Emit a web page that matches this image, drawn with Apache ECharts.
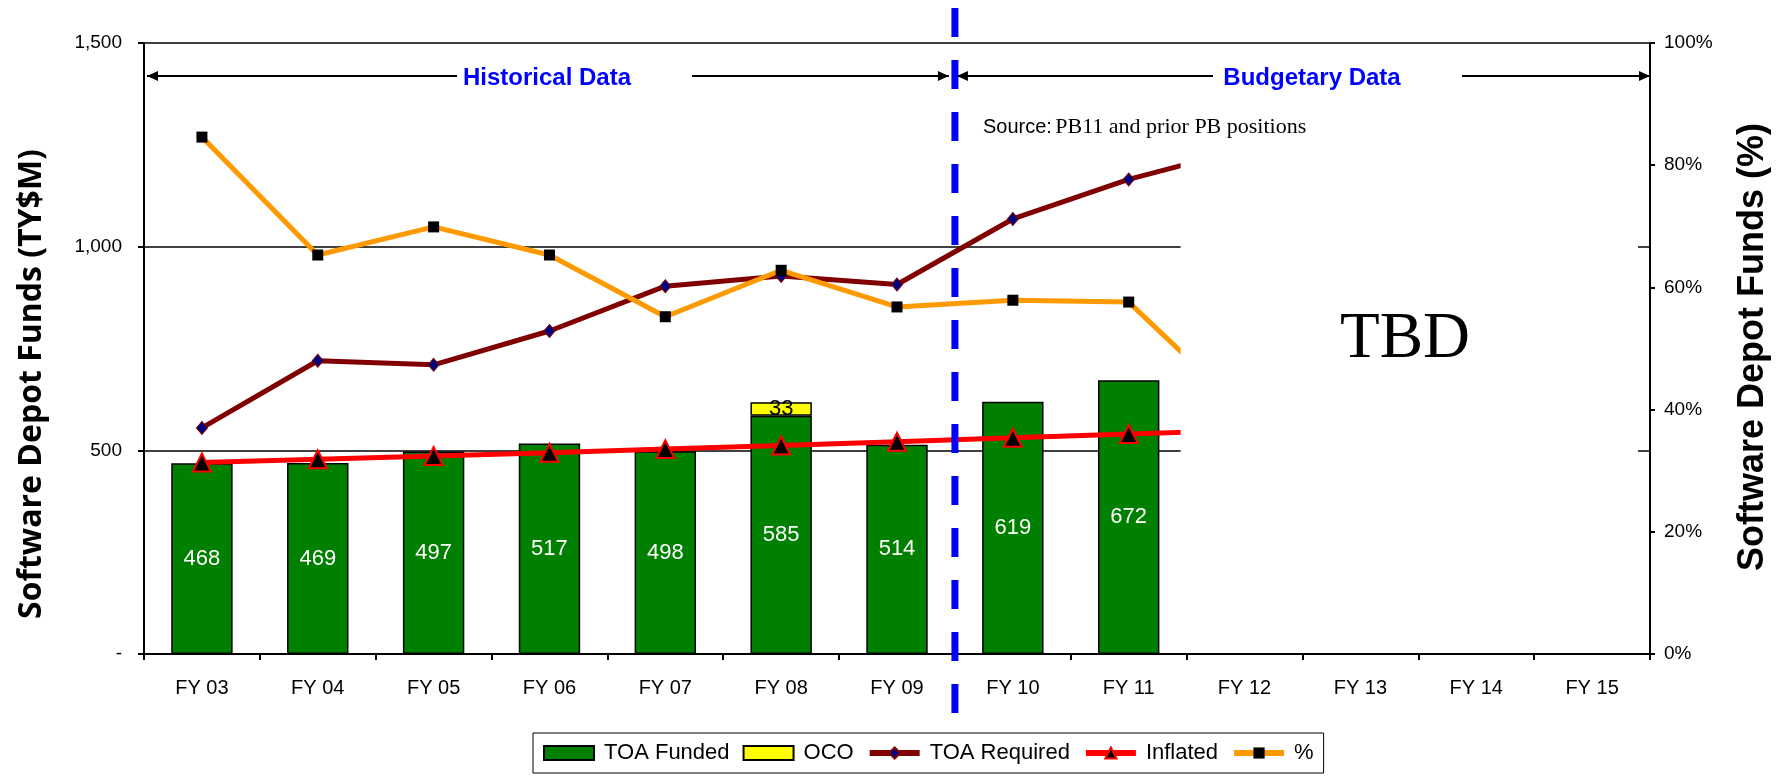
<!DOCTYPE html>
<html>
<head>
<meta charset="utf-8">
<script src="https://cdn.jsdelivr.net/npm/echarts@6/dist/echarts.min.js"></script>
<style>
  html, body { margin: 0; padding: 0; background: #fff; }
  #chart { width: 1777px; height: 776px; }
</style>
</head>
<body>
<div id="chart"></div>
<script>
// fiscal years on the x axis
const categories = ['FY 03', 'FY 04', 'FY 05', 'FY 06', 'FY 07', 'FY 08', 'FY 09',
  'FY 10', 'FY 11', 'FY 12', 'FY 13', 'FY 14', 'FY 15']

// TY$M
const toaFunded = [468, 469, 497, 517, 498, 585, 514, 619, 672, null, null, null, null]
const oco = [null, null, null, null, null, 33, null, null, null, null, null, null, null]
// FY 12 points only show as the start of a segment before the TBD box
const toaRequired = [555, 720, 710, 793, 903, 928, 907, 1068, 1165, 1240, null, null, null]
const inflated = [470, 478, 486, 494, 503, 512, 521, 531, 540, 549, null, null, null]
// share funded, right axis
const pctFunded = [0.846, 0.653, 0.699, 0.653, 0.552, 0.628, 0.568, 0.579, 0.576, 0.396, null, null, null]

const SANS = 'Liberation Sans, Arial, sans-serif'
const SERIF = 'Liberation Serif, Times New Roman, serif'
const GRID = { left: 144, right: 127, top: 43, bottom: 122 }

const chart = echarts.init(document.getElementById('chart'))

const option = {
  animation: false,
  backgroundColor: '#fff',
  grid: { ...GRID, containLabel: false, outerBoundsMode: 'none' },
  legend: {
    left: 533,
    top: 733,
    itemWidth: 50,
    itemHeight: 14,
    itemGap: 13,
    padding: [9, 10, 9, 10],
    borderColor: '#000',
    borderWidth: 1,
    lineStyle: { width: 6 },
    textStyle: { fontSize: 22, color: '#000', fontFamily: SANS, padding: [0, 0, 0, 5] },
    data: [
      { name: 'TOA Funded', icon: 'rect' },
      { name: 'OCO', icon: 'rect' },
      'TOA Required',
      'Inflated',
      '%'
    ]
  },
  xAxis: {
    type: 'category',
    data: categories,
    boundaryGap: true,
    axisLine: { lineStyle: { color: '#000', width: 2 } },
    axisTick: { show: true, length: 6, lineStyle: { color: '#000', width: 2 } },
    axisLabel: { interval: 0, color: '#000', fontSize: 20, fontFamily: SANS, margin: 24 },
    splitLine: { show: false }
  },
  yAxis: [
    {
      type: 'value',
      position: 'left',
      min: 0,
      max: 1500,
      interval: 500,
      axisLine: { show: true, lineStyle: { color: '#000', width: 2 } },
      axisTick: { show: true, length: 6, lineStyle: { color: '#000', width: 2 } },
      axisLabel: {
        color: '#000', fontSize: 19, fontFamily: SANS, margin: 22,
        formatter: v => v === 0 ? '-' : v.toLocaleString('en-US')
      },
      splitLine: { show: true, lineStyle: { color: '#000', width: 1.5 } }
    },
    {
      type: 'value',
      position: 'right',
      min: 0,
      max: 1,
      interval: 0.2,
      axisLine: { show: true, lineStyle: { color: '#000', width: 2 } },
      axisTick: { show: true, length: 5, lineStyle: { color: '#000', width: 2 } },
      axisLabel: {
        color: '#000', fontSize: 19, fontFamily: SANS, margin: 14,
        formatter: v => Math.round(v * 100) + '%'
      },
      splitLine: { show: false }
    }
  ],
  series: [
    {
      name: 'TOA Funded',
      type: 'bar',
      stack: 'funds',
      barWidth: '53%',
      data: toaFunded,
      itemStyle: { color: '#008000', borderColor: '#000', borderWidth: 1.5 },
      label: { show: true, position: 'inside', color: '#fff', fontSize: 22, fontFamily: SANS },
      emphasis: { disabled: true }
    },
    {
      name: 'OCO',
      type: 'bar',
      stack: 'funds',
      barWidth: '53%',
      data: oco,
      itemStyle: { color: '#FFFF00', borderColor: '#000', borderWidth: 1.5 },
      label: { show: true, position: 'inside', color: '#000', fontSize: 22, fontFamily: SANS },
      emphasis: { disabled: true }
    },
    {
      name: 'TOA Required',
      type: 'line',
      data: toaRequired,
      symbol: 'diamond',
      symbolSize: [11, 13],
      lineStyle: { color: '#800000', width: 5 },
      itemStyle: { color: '#000080', borderColor: '#800000', borderWidth: 1 },
      emphasis: { disabled: true }
    },
    {
      name: 'Inflated',
      type: 'line',
      data: inflated,
      symbol: 'triangle',
      symbolSize: 18,
      lineStyle: { color: '#FF0000', width: 5 },
      itemStyle: { color: '#000', borderColor: '#FF0000', borderWidth: 2 },
      emphasis: { disabled: true }
    },
    {
      name: '%',
      type: 'line',
      yAxisIndex: 1,
      data: pctFunded,
      symbol: 'rect',
      symbolSize: 11,
      lineStyle: { color: '#FF9900', width: 5 },
      itemStyle: { color: '#000' },
      emphasis: { disabled: true }
    }
  ]
}

chart.setOption(option)

// overlay: divider, period arrows, TBD box and notes
const xOf = c => chart.convertToPixel({ xAxisIndex: 0 }, c)
const plotL = GRID.left
const plotR = 1777 - GRID.right
const plotB = 776 - GRID.bottom
const divX = (xOf('FY 09') + xOf('FY 10')) / 2
const boxL = (xOf('FY 11') + xOf('FY 12')) / 2 - 6
const arrowY = 76

function hline(x1, x2) {
  return { type: 'line', z: 80, shape: { x1, y1: arrowY, x2, y2: arrowY },
    style: { stroke: '#000', lineWidth: 2 } }
}
function head(tip, dir) {
  return { type: 'polygon', z: 80,
    shape: { points: [[tip, arrowY], [tip - dir * 11, arrowY - 5], [tip - dir * 11, arrowY + 5]] },
    style: { fill: '#000' } }
}
function label(text, x, y, font, fill, extra) {
  return Object.assign({ type: 'text', z: 90, x, y,
    style: { text, font, fill, align: 'center', verticalAlign: 'middle' } }, extra || {})
}

chart.setOption({
  graphic: [
    { type: 'rect', z: 50, shape: { x: boxL, y: 96, width: plotR - 12 - boxL, height: plotB - 4 - 96 },
      style: { fill: '#fff' } },
    { type: 'line', z: 60, shape: { x1: divX, y1: 8, x2: divX, y2: 715 },
      style: { stroke: '#0000FF', lineWidth: 7, lineDash: [29, 23] } },
    hline(plotL + 3, 457), head(plotL + 3, -1),
    hline(692, divX - 6), head(divX - 6, 1),
    hline(divX + 2, 1213), head(divX + 2, -1),
    hline(1462, plotR), head(plotR, 1),
    label('Historical Data', 547, 78, 'bold 24px ' + SANS, '#0000FF'),
    label('Budgetary Data', 1312, 78, 'bold 24px ' + SANS, '#0000FF'),
    {
      type: 'text', z: 90, x: 983, y: 127,
      style: {
        text: '{a|Source:} {b|PB11 and prior PB positions}',
        align: 'left', verticalAlign: 'middle', fill: '#000',
        rich: {
          a: { fontFamily: SANS, fontSize: 20, fill: '#000' },
          b: { fontFamily: SERIF, fontSize: 22, fill: '#000' }
        }
      }
    },
    label('TBD', 1405, 340, '65px ' + SERIF, '#000'),
    label('Software Depot Funds (TY$M)', 32, 384, 'bold 32px "Open Sans", sans-serif', '#000',
      { rotation: Math.PI / 2 }),
    label('Software Depot Funds (%)', 1753, 347, 'bold 36px ' + SANS, '#000',
      { rotation: Math.PI / 2 })
  ]
})
</script>
</body>
</html>
